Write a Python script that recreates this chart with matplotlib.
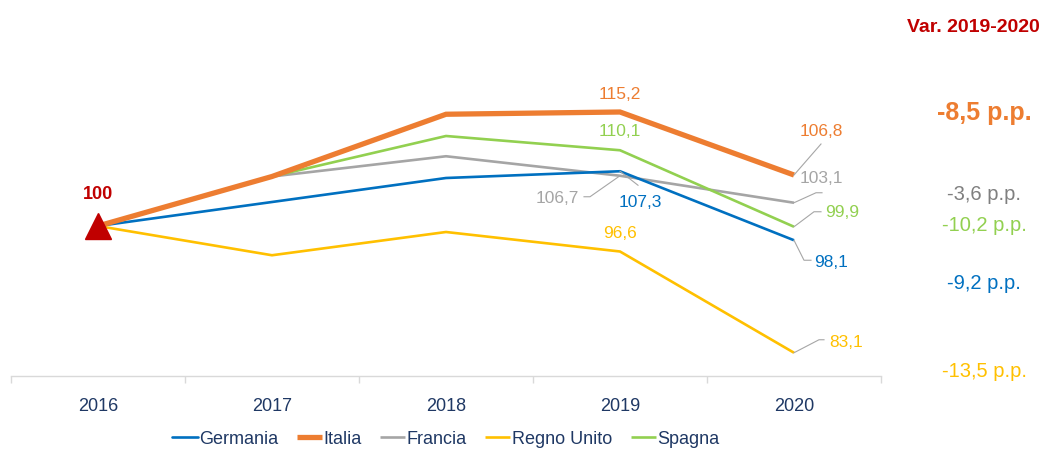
import matplotlib
matplotlib.use("Agg")

import matplotlib.pyplot as plt
from matplotlib.lines import Line2D

plt.rcParams["font.family"] = ["Liberation Sans", "DejaVu Sans"]

# ── dati ──
years = ["2016", "2017", "2018", "2019", "2020"]
germania = [100, 103.2, 106.4, 107.3, 98.1]
italia = [100, 106.6, 114.9, 115.2, 106.8]
francia = [100, 106.6, 109.3, 106.7, 103.1]
regno_unito = [100, 96.1, 99.2, 96.6, 83.1]
spagna = [100, 106.6, 112.0, 110.1, 99.9]

series_names = ["Germania", "Italia", "Francia", "Regno Unito", "Spagna"]
variazioni = ["-9,2 p.p.", "-8,5 p.p.", "-3,6 p.p.", "-13,5 p.p.", "-10,2 p.p."]

BLUE = "#0070C0"
ORANGE = "#ED7D31"
GRAY = "#A5A5A5"
YELLOW = "#FFC000"
GREEN = "#92D050"
DARKRED = "#C00000"
NAVY = "#1F3864"
LEADER = "#A6A6A6"

W, H = 1043, 452
fig = plt.figure(figsize=(W / 100, H / 100), dpi=100)
ax = fig.add_axes([11 / W, 1 - 377 / H, 870 / W, 315 / H])

x = list(range(len(years)))
data = [germania, italia, francia, regno_unito, spagna]
colors = [BLUE, ORANGE, GRAY, YELLOW, GREEN]
widths = [1.9, 3.8, 1.9, 1.9, 1.9]
order = [3, 2, 0, 4, 1]  # Italia sopra le altre

for i in order:
    ax.plot(x, data[i], color=colors[i], lw=widths[i], solid_capstyle="butt",
            solid_joinstyle="miter", zorder=2 + (i == 1))

ax.set_xlim(-0.5, len(years) - 0.5)
ax.set_ylim(80, 122)

# punto base 2016
ax.plot(x[0], germania[0], marker="^", color=DARKRED, markersize=19, zorder=5)
ax.annotate("100", xy=(x[0], germania[0]), xytext=(0, 33),
            textcoords="offset pixels", ha="center", va="center",
            fontsize=13, fontweight="bold", color=DARKRED)


def pix(xv, yv):
    return ax.transData.transform((xv, yv))


def label(xi, yv, text, color, dx, dy, leader=None):
    """Etichetta con eventuale linea guida (offset in pixel)."""
    ax.annotate(text, xy=(xi, yv), xytext=(dx, dy), textcoords="offset pixels",
                ha="center", va="center", fontsize=12.5, color=color, zorder=6)
    if leader:
        px, py = pix(xi, yv)
        pts = [(px, py)] + [(px + a, py + b) for a, b in leader]
        inv = ax.transData.inverted()
        dpts = inv.transform(pts)
        ax.add_line(Line2D(dpts[:, 0], dpts[:, 1], color=LEADER, lw=0.8, zorder=4))


# etichette 2019
label(3, italia[3], "115,2", ORANGE, 0, 19)
label(3, spagna[3], "110,1", GREEN, 0, 20)
label(3, regno_unito[3], "96,6", YELLOW, 0, 19)
label(3, francia[3], "106,7", GRAY, -63, -22, leader=[(-30, -21), (-36, -21)])
label(3, germania[3], "107,3", BLUE, 20, -30, leader=[(18, -14)])

# etichette 2020
label(4, italia[4], "106,8", ORANGE, 27, 45, leader=[(27, 31)])
label(4, francia[4], "103,1", GRAY, 27, 25, leader=[(22, 10), (28, 10)])
label(4, spagna[4], "99,9", GREEN, 48, 15, leader=[(20, 15), (27, 15)])
label(4, germania[4], "98,1", BLUE, 37, -21, leader=[(10, -20), (17, -20)])
label(4, regno_unito[4], "83,1", YELLOW, 52, 11, leader=[(25, 13), (30, 13)])

# assi
for s in ["top", "right", "left"]:
    ax.spines[s].set_visible(False)
ax.spines["bottom"].set_color("#D9D9D9")
ax.spines["bottom"].set_linewidth(1.0)
ax.set_yticks([])
ax.set_xticks(x)
ax.set_xticklabels(years, fontsize=13, color=NAVY)
ax.tick_params(axis="x", which="major", length=0, pad=15)
ax.set_xticks([i - 0.5 for i in range(len(years) + 1)], minor=True)
ax.tick_params(axis="x", which="minor", length=5, color="#D9D9D9", width=1.0)

# colonna variazioni
fig.text(1040 / W, 1 - 27 / H, "Var. 2019-2020", ha="right", va="center",
         fontsize=14, fontweight="bold", color=DARKRED)
var_y = [284, 113, 195, 372, 226]
for i in range(len(series_names)):
    bold = series_names[i] == "Italia"
    fig.text(984 / W, 1 - var_y[i] / H, variazioni[i], ha="center", va="center",
             fontsize=18 if bold else 14.5, fontweight="bold" if bold else "normal",
             color="#7F7F7F" if colors[i] == GRAY else colors[i])

# legenda
handles = [Line2D([0], [0], color=colors[i], lw=widths[i], solid_capstyle="butt" if i else "round")
           for i in range(len(series_names))]
leg = fig.legend(handles, series_names, loc="center", bbox_to_anchor=(446 / W, 1 - 440 / H),
                 ncol=5, frameon=False, fontsize=13, handlelength=1.4,
                 handletextpad=0.1, columnspacing=1.0)
for t in leg.get_texts():
    t.set_color(NAVY)

fig.savefig("out.png", dpi=100, facecolor="white")
